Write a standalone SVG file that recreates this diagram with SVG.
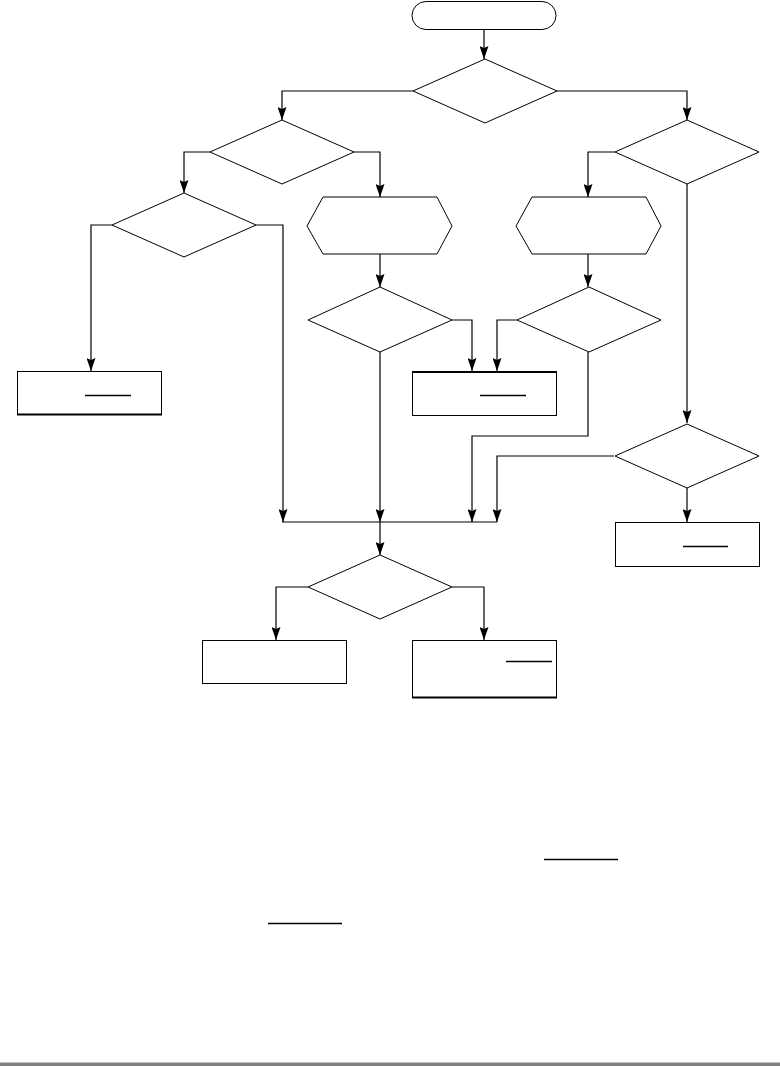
<svg xmlns="http://www.w3.org/2000/svg" width="780" height="1066" viewBox="0 0 780 1066">
<style>
.s{fill:#fff;stroke:#000;stroke-width:1}
.c{fill:none;stroke:#000;stroke-width:1.2}
.u{stroke:#000;stroke-width:1.3}
.t{stroke:#000;stroke-width:2.2}
</style>
<defs>
<marker id="ah" markerUnits="userSpaceOnUse" markerWidth="9" markerHeight="13" viewBox="0 0 9 13" refX="4.5" refY="13" orient="auto-start-reverse">
<path d="M0,0 L4.5,13 L9,0 L4.5,3 Z" fill="#000" transform="rotate(0)"/>
</marker>
<marker id="a" markerUnits="userSpaceOnUse" markerWidth="13" markerHeight="9" viewBox="0 0 13 9" refX="13" refY="4.5" orient="auto">
<path d="M0,0 L13,4.5 L0,9 L2,4.5 Z" fill="#000"/>
</marker>
</defs>
<rect width="780" height="1066" fill="#fff"/>
<g id="connectors">
<path class="c" d="M484,29 V59" marker-end="url(#a)"/>
<path class="c" d="M413,91 H282 V120" marker-end="url(#a)"/>
<path class="c" d="M556,91 H687 V120" marker-end="url(#a)"/>
<path class="c" d="M210,152 H184 V193" marker-end="url(#a)"/>
<path class="c" d="M354,152 H380 V197" marker-end="url(#a)"/>
<path class="c" d="M615,152 H588 V197" marker-end="url(#a)"/>
<path class="c" d="M112,225 H91 V371" marker-end="url(#a)"/>
<path class="c" d="M256,225 H283 V522" marker-end="url(#a)"/>
<path class="c" d="M380,254 V287" marker-end="url(#a)"/>
<path class="c" d="M588,254 V287" marker-end="url(#a)"/>
<path class="c" d="M452,320 H472 V371" marker-end="url(#a)"/>
<path class="c" d="M517,320 H497 V371" marker-end="url(#a)"/>
<path class="c" d="M380,352 V522" marker-end="url(#a)"/>
<path class="c" d="M588,352 V436 H472 V522" marker-end="url(#a)"/>
<path class="c" d="M687,184 V423" marker-end="url(#a)"/>
<path class="c" d="M614,456 H497 V522" marker-end="url(#a)"/>
<path class="c" d="M687,488 V522" marker-end="url(#a)"/>
<path class="c" d="M282,522 H497"/>
<path class="c" d="M380,522 V555" marker-end="url(#a)"/>
<path class="c" d="M308,587 H276 V640" marker-end="url(#a)"/>
<path class="c" d="M452,587 H484 V640" marker-end="url(#a)"/>
</g>
<g id="start"><rect class="s" x="412" y="1.5" width="144" height="28" rx="14"/></g>
<g id="d1"><polygon class="s" points="485,59 557,91 485,123 413,91"/></g>
<g id="d2"><polygon class="s" points="282,120 354,152 282,184 210,152"/></g>
<g id="d4"><polygon class="s" points="687,120 759,152 687,184 615,152"/></g>
<g id="d3"><polygon class="s" points="184,193 256,225 184,257 112,225"/></g>
<g id="h1"><polygon class="s" points="323,197 437,197 452,226 437,254 323,254 307,226"/></g>
<g id="h2"><polygon class="s" points="532,197 646,197 661,226 646,254 532,254 516,226"/></g>
<g id="d5"><polygon class="s" points="380,287 452,320 380,352 308,320"/></g>
<g id="d6"><polygon class="s" points="589,287 661,320 589,352 517,320"/></g>
<g id="r1"><rect class="s" x="17.5" y="371.5" width="144" height="43"/><line class="t" x1="17" y1="414.5" x2="162" y2="414.5"/><line class="u" x1="85" y1="395.5" x2="131" y2="395.5"/></g>
<g id="r2"><rect class="s" x="412.5" y="371.5" width="144" height="44"/><line class="t" x1="412" y1="372" x2="557" y2="372"/><line class="u" x1="480" y1="395.5" x2="526" y2="395.5"/></g>
<g id="d7"><polygon class="s" points="687,424 759,456 687,488 615,456"/></g>
<g id="r3"><rect class="s" x="615.5" y="522.5" width="144" height="44"/><line class="u" x1="683" y1="546.5" x2="728" y2="546.5"/></g>
<g id="d8"><polygon class="s" points="380,555 452,587 380,619 308,587"/></g>
<g id="r4"><rect class="s" x="202.5" y="640.5" width="144" height="43"/></g>
<g id="r5"><rect class="s" x="412.5" y="640.5" width="144" height="57"/><line class="t" x1="412" y1="697.5" x2="557" y2="697.5"/><line class="u" x1="506" y1="661.5" x2="552" y2="661.5"/></g>
<line class="u" x1="544" y1="859.5" x2="618" y2="859.5" style="stroke-width:1.5"/>
<line class="u" x1="268" y1="923.5" x2="342" y2="923.5" style="stroke-width:1.5"/>
<rect x="0" y="1062.5" width="780" height="3.5" fill="#808080"/>
</svg>
